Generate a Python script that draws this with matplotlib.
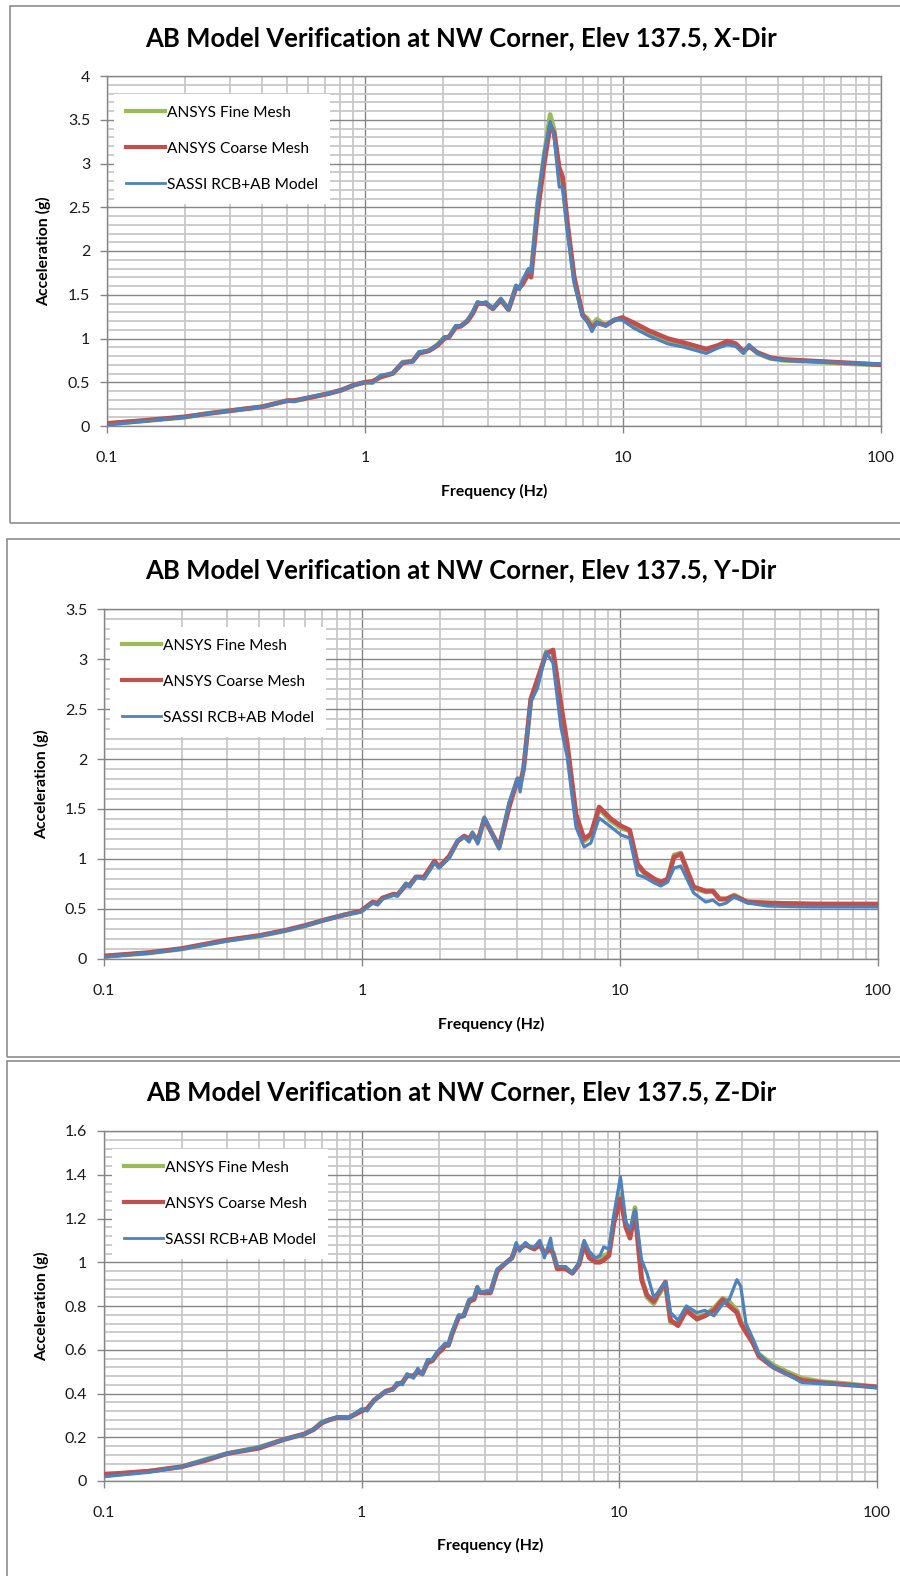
import matplotlib
matplotlib.use('Agg')
import matplotlib.pyplot as plt
from matplotlib.ticker import FixedLocator, FuncFormatter, NullFormatter
from matplotlib.patches import Rectangle
from matplotlib.lines import Line2D

plt.rcParams['font.family'] = ['Lato', 'DejaVu Sans']

# ---------------- data ----------------
series_names = ["ANSYS Fine Mesh", "ANSYS Coarse Mesh", "SASSI RCB+AB Model"]
titles = ["AB Model Verification at NW Corner, Elev 137.5, X-Dir",
          "AB Model Verification at NW Corner, Elev 137.5, Y-Dir",
          "AB Model Verification at NW Corner, Elev 137.5, Z-Dir"]
x_label = "Frequency (Hz)"
y_label = "Acceleration (g)"
x_ticks = [0.1, 1, 10, 100]
x_tick_labels = ["0.1", "1", "10", "100"]

# X-Dir
freq_x = [0.1, 0.135, 0.2, 0.25, 0.31, 0.4, 0.5, 0.53, 0.6, 0.72, 0.81, 0.91, 1.0, 1.07, 1.15,
          1.28, 1.4, 1.53, 1.62, 1.77, 1.91, 2.03, 2.12, 2.25, 2.35, 2.5, 2.62, 2.73, 2.86, 2.94,
          3.13, 3.36, 3.6, 3.85, 3.96, 4.08, 4.3, 4.4, 4.67, 4.95, 5.22, 5.41, 5.66, 5.83, 6.1,
          6.47, 6.97, 7.28, 7.58, 7.92, 8.57, 9.23, 9.94, 11.0, 12.6, 14.9, 17.3, 21.0, 23.3,
          25.4, 27.4, 29.3, 30.8, 33.2, 37.4, 42.0, 56.6, 76.7, 100]
sassi_x = [0.01, 0.05, 0.10, 0.145, 0.18, 0.22, 0.29, 0.28, 0.33, 0.37, 0.41, 0.47, 0.50, 0.49, 0.58,
           0.60, 0.73, 0.73, 0.85, 0.86, 0.93, 1.02, 1.02, 1.15, 1.14, 1.21, 1.31, 1.42, 1.40, 1.42,
           1.34, 1.46, 1.33, 1.61, 1.56, 1.67, 1.80, 1.75, 2.58, 3.12, 3.48, 3.31, 2.73, 2.73, 2.20,
           1.63, 1.25, 1.19, 1.08, 1.19, 1.14, 1.22, 1.21, 1.12, 1.03, 0.94, 0.90, 0.83, 0.89,
           0.93, 0.91, 0.83, 0.93, 0.83, 0.77, 0.75, 0.735, 0.72, 0.71]
coarse_x = [0.03, 0.06, 0.105, 0.145, 0.18, 0.22, 0.29, 0.29, 0.32, 0.37, 0.41, 0.47, 0.50, 0.51, 0.56,
            0.60, 0.72, 0.74, 0.83, 0.86, 0.92, 1.00, 1.02, 1.13, 1.14, 1.20, 1.29, 1.40, 1.40, 1.40,
            1.34, 1.44, 1.33, 1.58, 1.58, 1.62, 1.74, 1.70, 2.45, 3.00, 3.43, 3.35, 2.95, 2.85, 2.30,
            1.70, 1.27, 1.20, 1.12, 1.18, 1.15, 1.21, 1.24, 1.18, 1.09, 1.00, 0.95, 0.88, 0.92,
            0.97, 0.94, 0.85, 0.91, 0.84, 0.78, 0.76, 0.74, 0.72, 0.70]
fine_x = [0.025, 0.055, 0.10, 0.145, 0.18, 0.22, 0.29, 0.285, 0.32, 0.37, 0.41, 0.47, 0.50, 0.50, 0.57,
          0.60, 0.73, 0.74, 0.84, 0.86, 0.93, 1.01, 1.02, 1.14, 1.14, 1.21, 1.30, 1.41, 1.40, 1.41,
          1.34, 1.45, 1.33, 1.60, 1.57, 1.65, 1.78, 1.73, 2.55, 3.10, 3.56, 3.38, 2.85, 2.80, 2.25,
          1.67, 1.27, 1.23, 1.15, 1.22, 1.15, 1.21, 1.22, 1.15, 1.05, 0.97, 0.93, 0.87, 0.91,
          0.95, 0.92, 0.84, 0.92, 0.83, 0.77, 0.75, 0.735, 0.71, 0.70]

# Y-Dir
freq_y = [0.1, 0.15, 0.2, 0.3, 0.4, 0.5, 0.6, 0.714, 0.85, 0.99, 1.10, 1.15, 1.20, 1.33, 1.37,
          1.48, 1.53, 1.62, 1.74, 1.91, 1.99, 2.18, 2.35, 2.49, 2.60, 2.68, 2.81, 2.98, 3.40, 3.72,
          4.01, 4.10, 4.23, 4.51, 4.79, 5.17, 5.50, 5.90, 6.24, 6.75, 7.26, 7.71, 8.30, 9.23, 10.1,
          10.9, 11.7, 12.4, 13.6, 14.4, 15.3, 16.2, 17.2, 19.3, 21.5, 22.9, 24.3, 25.8, 27.7, 31.2,
          37.3, 54.9, 100]
sassi_y = [0.02, 0.06, 0.10, 0.18, 0.23, 0.28, 0.33, 0.39, 0.44, 0.47, 0.56, 0.54, 0.60, 0.64, 0.63,
           0.76, 0.72, 0.82, 0.80, 0.96, 0.91, 1.01, 1.19, 1.22, 1.17, 1.27, 1.15, 1.42, 1.10, 1.57,
           1.81, 1.67, 1.92, 2.57, 2.71, 3.07, 2.96, 2.32, 2.02, 1.32, 1.12, 1.16, 1.41, 1.32, 1.24,
           1.21, 0.84, 0.82, 0.76, 0.73, 0.77, 0.91, 0.93, 0.66, 0.57, 0.59, 0.54, 0.56, 0.62, 0.56,
           0.53, 0.52, 0.52]
coarse_y = [0.03, 0.065, 0.105, 0.19, 0.235, 0.285, 0.335, 0.39, 0.44, 0.48, 0.57, 0.56, 0.61, 0.65, 0.64,
            0.74, 0.74, 0.82, 0.82, 0.98, 0.92, 1.03, 1.18, 1.23, 1.20, 1.25, 1.18, 1.40, 1.12, 1.52,
            1.80, 1.75, 1.90, 2.60, 2.80, 3.05, 3.09, 2.55, 2.16, 1.45, 1.20, 1.25, 1.52, 1.40, 1.33,
            1.29, 0.95, 0.87, 0.80, 0.77, 0.80, 1.02, 1.05, 0.72, 0.68, 0.68, 0.60, 0.60, 0.63, 0.57,
            0.56, 0.55, 0.55]
fine_y = [0.025, 0.06, 0.10, 0.185, 0.23, 0.28, 0.33, 0.39, 0.44, 0.475, 0.565, 0.55, 0.605, 0.645, 0.635,
          0.75, 0.73, 0.82, 0.81, 0.97, 0.92, 1.02, 1.18, 1.22, 1.19, 1.26, 1.17, 1.41, 1.11, 1.55,
          1.80, 1.72, 1.91, 2.58, 2.76, 3.07, 3.07, 2.50, 2.12, 1.42, 1.18, 1.23, 1.50, 1.38, 1.31,
          1.28, 0.93, 0.86, 0.79, 0.76, 0.80, 1.04, 1.06, 0.71, 0.67, 0.68, 0.60, 0.60, 0.64, 0.57,
          0.56, 0.55, 0.54]

# Z-Dir
freq_z = [0.1, 0.15, 0.2, 0.25, 0.3, 0.4, 0.5, 0.6, 0.65, 0.7, 0.75, 0.805, 0.893, 1.0, 1.05,
          1.12, 1.24, 1.32, 1.37, 1.44, 1.50, 1.59, 1.65, 1.72, 1.80, 1.88, 1.96, 2.05, 2.11, 2.17,
          2.24, 2.38, 2.49, 2.61, 2.73, 2.81, 2.89, 3.07, 3.16, 3.36, 3.57, 3.83, 3.98, 4.10, 4.32,
          4.49, 4.68, 4.91, 5.12, 5.41, 5.54, 5.74, 6.19, 6.57, 6.98, 7.30, 7.64, 8.09, 8.40, 8.70,
          9.11, 9.53, 10.1, 10.6, 11.0, 11.5, 12.2, 12.8, 13.6, 14.2, 15.1, 15.8, 16.9, 18.2, 20.0,
          21.5, 23.3, 25.2, 26.7, 28.6, 29.6, 31.0, 33.0, 34.8, 39.6, 44.6, 51.1, 60.1, 76.3, 100]
sassi_z = [0.02, 0.04, 0.065, 0.10, 0.125, 0.155, 0.19, 0.215, 0.235, 0.27, 0.28, 0.294, 0.29, 0.33, 0.32,
           0.37, 0.41, 0.415, 0.45, 0.44, 0.49, 0.47, 0.515, 0.485, 0.555, 0.555, 0.59, 0.615, 0.63, 0.62,
           0.68, 0.76, 0.755, 0.83, 0.84, 0.89, 0.86, 0.87, 0.865, 0.97, 0.99, 1.02, 1.09, 1.05, 1.09,
           1.07, 1.07, 1.10, 1.02, 1.11, 1.03, 0.98, 0.98, 0.95, 1.00, 1.10, 1.05, 1.02, 1.03, 1.07,
           1.06, 1.22, 1.39, 1.185, 1.15, 1.24, 1.01, 0.95, 0.84, 0.865, 0.91, 0.77, 0.735, 0.80, 0.77,
           0.78, 0.755, 0.81, 0.83, 0.92, 0.89, 0.72, 0.65, 0.58, 0.52, 0.49, 0.45, 0.445, 0.44, 0.425]
coarse_z = [0.03, 0.045, 0.065, 0.095, 0.125, 0.15, 0.19, 0.215, 0.235, 0.265, 0.28, 0.29, 0.29, 0.32, 0.33,
            0.37, 0.41, 0.42, 0.44, 0.45, 0.48, 0.48, 0.50, 0.49, 0.54, 0.55, 0.58, 0.60, 0.62, 0.62,
            0.67, 0.75, 0.755, 0.82, 0.83, 0.88, 0.86, 0.86, 0.86, 0.96, 0.99, 1.02, 1.07, 1.06, 1.08,
            1.07, 1.06, 1.08, 1.04, 1.06, 1.04, 0.97, 0.97, 0.95, 0.99, 1.08, 1.02, 1.00, 1.00, 1.01,
            1.03, 1.18, 1.29, 1.16, 1.11, 1.23, 0.92, 0.85, 0.82, 0.86, 0.91, 0.735, 0.71, 0.78, 0.74,
            0.755, 0.78, 0.83, 0.80, 0.77, 0.72, 0.68, 0.63, 0.57, 0.52, 0.49, 0.46, 0.45, 0.44, 0.43]
fine_z = [0.025, 0.045, 0.065, 0.10, 0.125, 0.155, 0.19, 0.215, 0.235, 0.27, 0.28, 0.29, 0.29, 0.325, 0.33,
          0.37, 0.41, 0.42, 0.445, 0.45, 0.485, 0.48, 0.505, 0.49, 0.545, 0.55, 0.585, 0.605, 0.625, 0.62,
          0.675, 0.755, 0.755, 0.825, 0.835, 0.885, 0.86, 0.865, 0.865, 0.965, 0.99, 1.02, 1.08, 1.06, 1.085,
          1.07, 1.065, 1.09, 1.04, 1.07, 1.04, 0.975, 0.975, 0.95, 0.995, 1.09, 1.03, 1.01, 1.01, 1.03,
          1.04, 1.20, 1.31, 1.17, 1.12, 1.25, 0.93, 0.84, 0.81, 0.85, 0.90, 0.725, 0.72, 0.79, 0.75,
          0.76, 0.79, 0.835, 0.82, 0.78, 0.73, 0.69, 0.64, 0.58, 0.53, 0.50, 0.47, 0.455, 0.445, 0.43]

y_max = [4.0, 3.5, 1.6]
y_major = [0.5, 0.5, 0.2]
y_minor = [0.1, 0.1, 0.04]

# ---------------- layout / style ----------------
W, H = 900, 1576
GREEN, RED, BLUE = '#9BBB59', '#C0504D', '#4F81BD'
MAJ_GRID, MIN_GRID = '#868686', '#C8C8C8'

fig = plt.figure(figsize=(W / 100, H / 100), dpi=100)


def fx(px):
    return px / W


def fy(py):
    return 1 - py / H


panels = [
    dict(box=(10, 6, 920, 523), ax=(107, 76, 881, 426), title_y=38, xlab_y=491, ylab_x=44,
         leg=(114, 94)),
    dict(box=(7, 539, 920, 1057), ax=(104, 609, 878, 959), title_y=570, xlab_y=1024, ylab_x=42,
         leg=(110, 627)),
    dict(box=(7, 1061, 920, 1590), ax=(104, 1131, 877, 1481), title_y=1092, xlab_y=1545, ylab_x=42,
         leg=(112, 1149)),
]

data = [(freq_x, fine_x, coarse_x, sassi_x),
        (freq_y, fine_y, coarse_y, sassi_y),
        (freq_z, fine_z, coarse_z, sassi_z)]

minor_x = [m * d for d in (0.1, 1, 10) for m in range(2, 10)]

for i, p in enumerate(panels):
    bl, bt, br, bb = p['box']
    fig.patches.append(Rectangle((fx(bl), fy(bb)), fx(br - bl), (bb - bt) / H,
                                 transform=fig.transFigure, fill=False,
                                 edgecolor='#8C8C8C', linewidth=1.2, zorder=0))
    l, t, r, b = p['ax']
    ax = fig.add_axes([fx(l), fy(b), (r - l) / W, (b - t) / H])
    ax.set_xscale('log')
    ax.set_xlim(0.1, 100)
    ax.set_ylim(0, y_max[i])
    ax.xaxis.set_major_locator(FixedLocator(x_ticks))
    ax.xaxis.set_major_formatter(FuncFormatter(lambda v, pos: x_tick_labels[x_ticks.index(v)] if v in x_ticks else ''))
    ax.xaxis.set_minor_locator(FixedLocator(minor_x))
    ax.xaxis.set_minor_formatter(NullFormatter())
    nmaj = int(round(y_max[i] / y_major[i]))
    ax.yaxis.set_major_locator(FixedLocator([k * y_major[i] for k in range(nmaj + 1)]))
    ax.yaxis.set_major_formatter(FuncFormatter(lambda v, pos: '{:g}'.format(round(v, 3))))
    nmin = int(round(y_max[i] / y_minor[i]))
    ax.yaxis.set_minor_locator(FixedLocator([k * y_minor[i] for k in range(nmin + 1)]))
    ax.grid(which='minor', color=MIN_GRID, linewidth=1.3, zorder=0)
    ax.grid(which='major', color=MAJ_GRID, linewidth=1.0, zorder=0.5)
    ax.set_axisbelow(True)
    for s in ax.spines.values():
        s.set_color(MAJ_GRID)
        s.set_linewidth(1.0)
    ax.tick_params(which='major', direction='out', length=5, width=1, color=MAJ_GRID,
                   labelsize=11.5, labelcolor='#1a1a1a')
    ax.tick_params(axis='x', which='major', pad=13)
    ax.tick_params(axis='y', which='major', pad=7)
    ax.tick_params(which='minor', length=0)

    f, g, rr, bbv = data[i]
    ax.plot(f, g, color=GREEN, lw=3.4, solid_joinstyle='round', zorder=2)
    ax.plot(f, rr, color=RED, lw=3.4, solid_joinstyle='round', zorder=3)
    ax.plot(f, bbv, color=BLUE, lw=2.3, solid_joinstyle='round', zorder=4)

    handles = [Line2D([], [], color=GREEN, lw=3.0),
               Line2D([], [], color=RED, lw=3.0),
               Line2D([], [], color=BLUE, lw=2.0)]
    ll, lt = p['leg']
    leg = ax.legend(handles, series_names, loc='upper left',
                    bbox_to_anchor=(fx(ll), fy(lt)), bbox_transform=fig.transFigure,
                    frameon=True, fancybox=False, framealpha=1.0, facecolor='white',
                    edgecolor='none', fontsize=11.2, handlelength=2.5, handletextpad=0.15,
                    labelspacing=1.42, borderaxespad=0, borderpad=0.75)
    leg.set_zorder(10)

    fig.text(fx(461), fy(p['title_y']), titles[i], ha='center', va='center',
             fontsize=18.5, fontweight='bold', color='black')
    fig.text(fx((l + r) / 2), fy(p['xlab_y']), x_label, ha='center', va='center',
             fontsize=11.3, fontweight='bold', color='black')
    fig.text(fx(p['ylab_x']), fy((t + b) / 2), y_label, ha='center', va='center',
             rotation=90, fontsize=11.3, fontweight='bold', color='black')

fig.savefig('out.png', dpi=100, facecolor='white')
